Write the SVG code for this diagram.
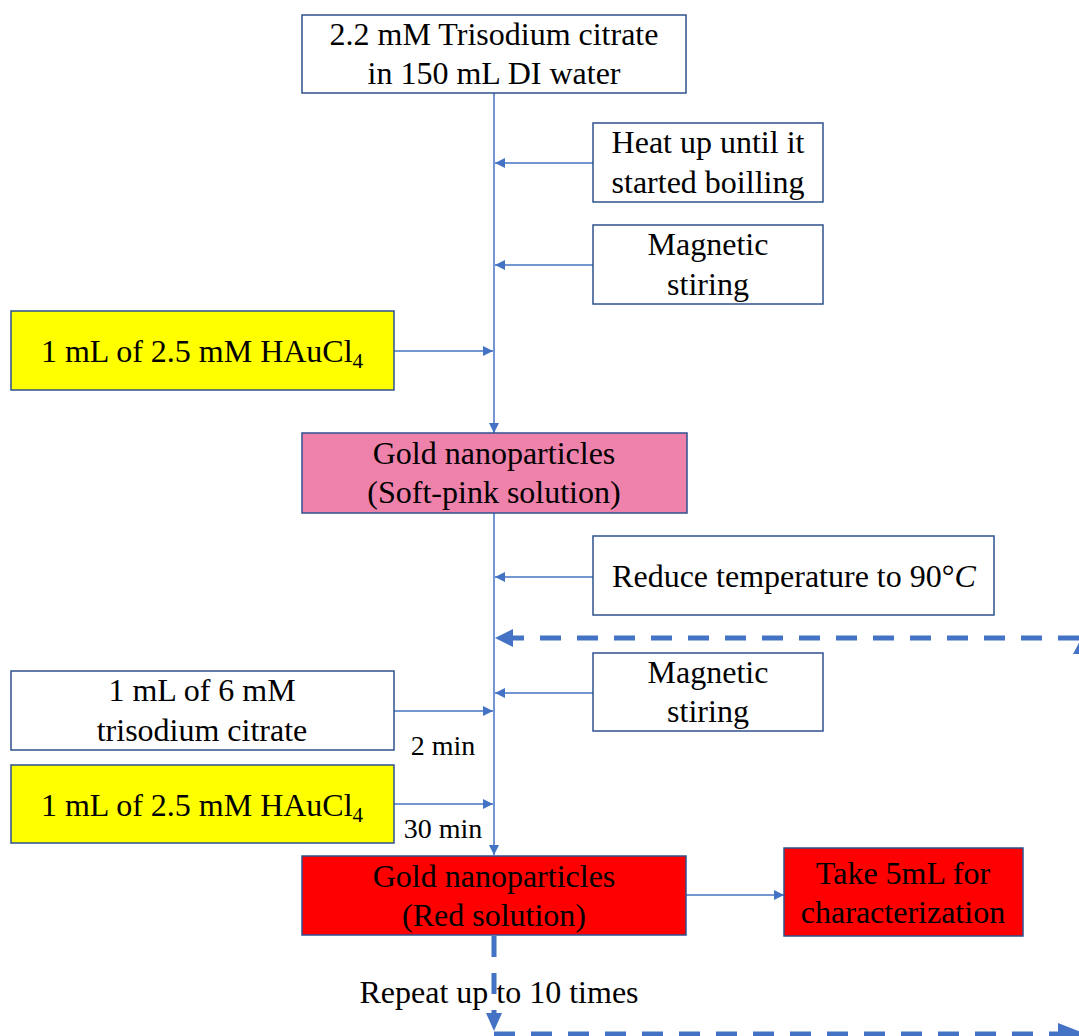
<svg xmlns="http://www.w3.org/2000/svg" width="1079" height="1036" viewBox="0 0 1079 1036">
<defs>
<style>
.box{stroke:#2F528F;stroke-width:1.5}
.w{fill:#FFFFFF}.y{fill:#FFFF00}.p{fill:#EE82AA}.r{fill:#FF0000}
.t{font-family:"Liberation Serif","Times New Roman",serif;font-size:32px;fill:#000;text-anchor:middle}
.sub{font-size:21px}
.c{fill:none;stroke:#4472C4;stroke-width:1.5}
.d{fill:none;stroke:#4472C4;stroke-width:5;stroke-dasharray:21 16}
.ah{fill:#4472C4}
</style>
<marker id="ah" viewBox="0 0 10 10" refX="10" refY="5" markerWidth="11" markerHeight="10" markerUnits="userSpaceOnUse" orient="auto">
<path d="M0,0 L10,5 L0,10 z" fill="#4472C4"/>
</marker>
</defs>
<rect width="1079" height="1036" fill="#FFFFFF"/>

<g id="connectors">
<path class="c" d="M494,93 V433" marker-end="url(#ah)"/>
<path class="c" d="M593,163 H495" marker-end="url(#ah)"/>
<path class="c" d="M593,265 H495" marker-end="url(#ah)"/>
<path class="c" d="M394,351 H493" marker-end="url(#ah)"/>
<path class="c" d="M494,513 V855" marker-end="url(#ah)"/>
<path class="c" d="M593,577 H495" marker-end="url(#ah)"/>
<path class="c" d="M593,693 H495" marker-end="url(#ah)"/>
<path class="c" d="M394,711 H493" marker-end="url(#ah)"/>
<path class="c" d="M394,804 H493" marker-end="url(#ah)"/>
<path class="c" d="M686,895 H784" marker-end="url(#ah)"/>
<path class="d" d="M1079,638 H510"/>
<polygon class="ah" points="495,638 513,629 513,647"/>
<path class="d" d="M494,936 V1016"/>
<polygon class="ah" points="494,1031 486,1013 502,1013"/>
<path class="d" d="M494,1034 H1060"/>
<polygon class="ah" points="1086,1034 1058,1023 1058,1045"/>
<polygon class="ah" points="1073,654 1082,637 1091,654"/>
</g>

<g id="n-start"><rect class="box w" x="302" y="15" width="384" height="78"/>
<text class="t" x="494" y="45">2.2 mM Trisodium citrate</text>
<text class="t" x="494" y="84">in 150 mL DI water</text></g>

<g id="n-heat"><rect class="box w" x="593" y="123" width="230" height="79"/>
<text class="t" x="708" y="153">Heat up until it</text>
<text class="t" x="708" y="193">started boilling</text></g>

<g id="n-stir1"><rect class="box w" x="593" y="225" width="230" height="79"/>
<text class="t" x="708" y="255">Magnetic</text>
<text class="t" x="708" y="295">stiring</text></g>

<g id="n-haucl1"><rect class="box y" x="11" y="311" width="383" height="79"/>
<text class="t" x="202" y="362">1 mL of 2.5 mM HAuCl<tspan class="sub" dy="6">4</tspan></text></g>

<g id="n-pink"><rect class="box p" x="302" y="433" width="385" height="80"/>
<text class="t" x="494" y="464">Gold nanoparticles</text>
<text class="t" x="494" y="503">(Soft-pink solution)</text></g>

<g id="n-reduce"><rect class="box w" x="593" y="536" width="401" height="79"/>
<text class="t" x="794" y="587">Reduce temperature to 90°<tspan font-style="italic">C</tspan></text></g>

<g id="n-stir2"><rect class="box w" x="593" y="653" width="230" height="78"/>
<text class="t" x="708" y="683">Magnetic</text>
<text class="t" x="708" y="722">stiring</text></g>

<g id="n-citrate"><rect class="box w" x="11" y="671" width="383" height="79"/>
<text class="t" x="202" y="701">1 mL of 6 mM</text>
<text class="t" x="202" y="741">trisodium citrate</text></g>

<g id="n-haucl2"><rect class="box y" x="11" y="765" width="383" height="78"/>
<text class="t" x="202" y="816">1 mL of 2.5 mM HAuCl<tspan class="sub" dy="6">4</tspan></text></g>

<g id="n-red"><rect class="box r" x="302" y="856" width="384" height="79"/>
<text class="t" x="494" y="887">Gold nanoparticles</text>
<text class="t" x="494" y="926">(Red solution)</text></g>

<g id="n-take"><rect class="box r" x="784" y="848" width="239" height="88"/>
<text class="t" x="903" y="884">Take 5mL for</text>
<text class="t" x="903" y="923">characterization</text></g>

<g id="labels">
<text class="t" x="443" y="755" style="font-size:28px">2 min</text>
<text class="t" x="443" y="838" style="font-size:28px">30 min</text>
<text class="t" x="499" y="1003" style="font-size:32px">Repeat up to 10 times</text>
</g>
</svg>
